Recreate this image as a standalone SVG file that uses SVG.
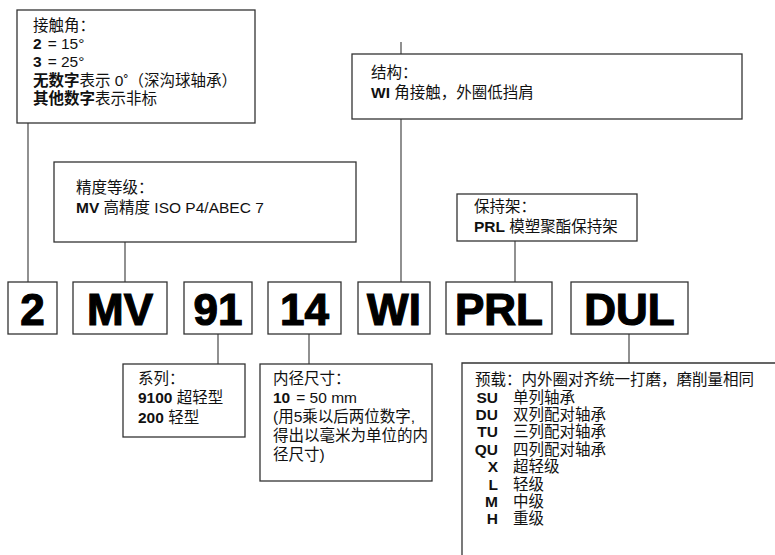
<svg xmlns="http://www.w3.org/2000/svg" width="775" height="555" viewBox="0 0 775 555">
<style>
.box{fill:#fff;stroke:#333;stroke-width:1.3}
.ln{stroke:#555;stroke-width:1.3;fill:none}
.t{font-family:"Liberation Sans","Noto Sans CJK SC",sans-serif;font-size:15.5px;fill:#111}
.b{font-weight:bold}
.code{font-family:"Liberation Sans",sans-serif;font-weight:bold;font-size:44px;fill:#000;stroke:#000;stroke-width:1.2;text-anchor:middle}
</style>
<rect width="775" height="555" fill="#fff"/>
<g id="connectors">
<line class="ln" x1="28" y1="123" x2="28" y2="282"/>
<line class="ln" x1="125" y1="242" x2="125" y2="282"/>
<line class="ln" x1="401" y1="42" x2="401" y2="282"/>
<line class="ln" x1="515" y1="241" x2="515" y2="282"/>
<line class="ln" x1="218" y1="334" x2="218" y2="364"/>
<line class="ln" x1="309" y1="334" x2="309" y2="364"/>
<line class="ln" x1="629" y1="334" x2="629" y2="363"/>
</g>
<g id="contact-angle">
<rect class="box" x="17" y="10" width="238" height="113"/>
<text class="t" x="33" y="31">接触角：</text>
<text class="t" x="33" y="49"><tspan class="b">2</tspan><tspan dx="6">= 15°</tspan></text>
<text class="t" x="33" y="67"><tspan class="b">3</tspan><tspan dx="6">= 25°</tspan></text>
<text class="t" x="33" y="86"><tspan class="b">无数字</tspan>表示 0˚（深沟球轴承）</text>
<text class="t" x="33" y="104"><tspan class="b">其他数字</tspan>表示非标</text>
</g>
<g id="precision">
<rect class="box" x="54" y="162" width="302" height="80"/>
<text class="t" x="76" y="193">精度等级：</text>
<text class="t" x="76" y="213"><tspan class="b">MV</tspan> 高精度 ISO P4/ABEC 7</text>
</g>
<g id="structure">
<rect class="box" x="352" y="54" width="390" height="65"/>
<text class="t" x="371" y="78">结构：</text>
<text class="t" x="371" y="98"><tspan class="b">WI</tspan> 角接触，外圈低挡肩</text>
</g>
<g id="cage">
<rect class="box" x="457" y="194" width="180" height="47"/>
<text class="t" x="474" y="212">保持架：</text>
<text class="t" x="474" y="232"><tspan class="b">PRL</tspan> 模塑聚酯保持架</text>
</g>
<g id="code-2"><rect class="box" x="8" y="282" width="49" height="52"/><text class="code" x="32.5" y="325">2</text></g>
<g id="code-MV"><rect class="box" x="73" y="282" width="94" height="52"/><text class="code" x="120" y="325">MV</text></g>
<g id="code-91"><rect class="box" x="184" y="282" width="68" height="52"/><text class="code" x="218" y="325">91</text></g>
<g id="code-14"><rect class="box" x="268" y="282" width="73" height="52"/><text class="code" x="304.5" y="325">14</text></g>
<g id="code-WI"><rect class="box" x="358" y="282" width="72" height="52"/><text class="code" x="394" y="325">WI</text></g>
<g id="code-PRL"><rect class="box" x="446" y="282" width="106" height="52"/><text class="code" x="499" y="325">PRL</text></g>
<g id="code-DUL"><rect class="box" x="571" y="282" width="117" height="52"/><text class="code" x="629.5" y="325">DUL</text></g>
<g id="series">
<rect class="box" x="123" y="364" width="122" height="73"/>
<text class="t" x="138" y="384">系列：</text>
<text class="t" x="138" y="403"><tspan class="b">9100</tspan> 超轻型</text>
<text class="t" x="138" y="423"><tspan class="b">200</tspan> 轻型</text>
</g>
<g id="bore">
<rect class="box" x="260" y="364" width="172" height="117"/>
<text class="t" x="273" y="384">内径尺寸：</text>
<text class="t" x="273" y="403"><tspan class="b">10</tspan><tspan dx="6">= 50 mm</tspan></text>
<text class="t" x="273" y="422">(用5乘以后两位数字,</text>
<text class="t" x="273" y="441">得出以毫米为单位的内</text>
<text class="t" x="273" y="460">径尺寸)</text>
</g>
<g id="preload">
<path class="ln" d="M462 555 V363 H775" style="stroke:#333"/>
<text class="t" x="475" y="385">预载：内外圈对齐统一打磨，磨削量相同</text>
<g class="t b" text-anchor="end">
<text x="498" y="403">SU</text><text x="498" y="420">DU</text><text x="498" y="437">TU</text><text x="498" y="455">QU</text>
<text x="498" y="472">X</text><text x="498" y="490">L</text><text x="498" y="507">M</text><text x="498" y="524">H</text>
</g>
<g class="t">
<text x="513" y="403">单列轴承</text><text x="513" y="420">双列配对轴承</text><text x="513" y="437">三列配对轴承</text><text x="513" y="455">四列配对轴承</text>
<text x="513" y="472">超轻级</text><text x="513" y="490">轻级</text><text x="513" y="507">中级</text><text x="513" y="524">重级</text>
</g>
</g>
</svg>
